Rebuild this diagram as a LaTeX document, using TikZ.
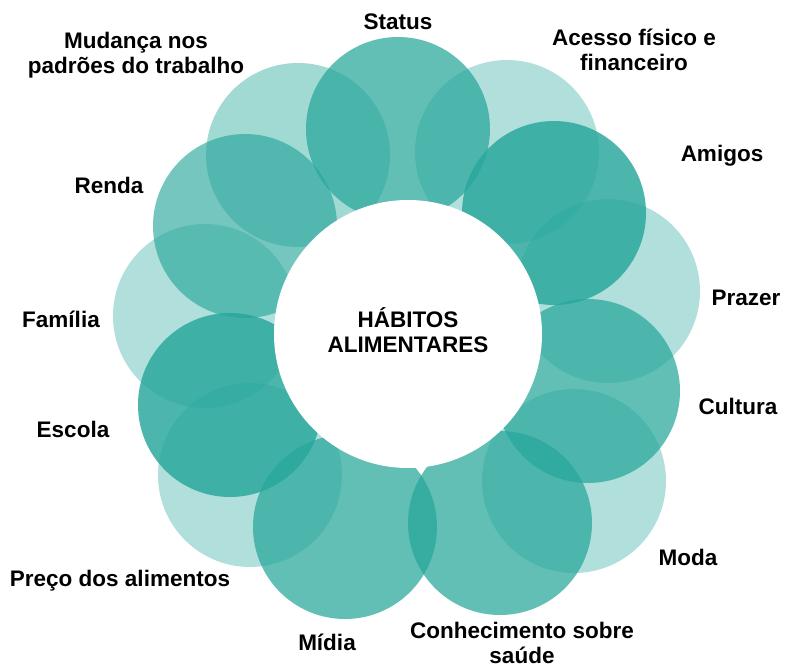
\documentclass[tikz,border=0pt]{standalone}
\usepackage{fontspec}
\setmainfont{Liberation Sans}
\definecolor{petal}{RGB}{38,166,154}
\tikzset{
  circ1/.style = {
    shape = circle,
    fill = petal,
    fill opacity = 0.36,
    inner sep = 0pt,
    minimum size = 184pt,
  }
}
\tikzset{
  circ2/.style = {circ1, fill opacity = 0.72},
  circ3/.style = {circ1, fill opacity = 0.82},
}
\tikzset{
  label1/.style = {
    align = center,
    inner sep = 0pt,
    font = \fontsize{22.5}{25}\selectfont\bfseries,
  }
}

\begin{document}
\begin{tikzpicture}[x = 1pt, y = -1pt]
        \useasboundingbox (0,0) rectangle (785,668);
        % petals
        \node[circ2](c1) at (398,129){};
        \node[circ1](c2) at (507,152){};
        \node[circ3](c3) at (554,213){};
        \node[circ1](c4) at (608,291){};
        \node[circ2](c5) at (588,391){};
        \node[circ1](c6) at (574,481){};
        \node[circ2](c7) at (500,523){};
        \node[circ2](c8) at (345,527){};
        \node[circ1](c9) at (250,475){};
        \node[circ3](c10) at (230,405){};
        \node[circ1](c11) at (205,316){};
        \node[circ2, fill opacity = 0.64](c12) at (245,226){};
        \node[circ1, fill opacity = 0.43](c13) at (298,155){};
        % centre
        \node[circle, fill = white, minimum size = 268pt, inner sep = 0pt](hub) at (408,334){};
        \node[label1](h) at (408,330){HÁBITOS\\ALIMENTARES};
        % labels
        \node[label1, anchor = base](t1) at (398,30){Status};
        \node[label1, anchor = north](t2) at (634,28.5){Acesso físico e\\financeiro};
        \node[label1, anchor = base](t3) at (722,162){Amigos};
        \node[label1, anchor = base](t4) at (746,306){Prazer};
        \node[label1, anchor = base](t5) at (738,414){Cultura};
        \node[label1, anchor = base](t6) at (688,565){Moda};
        \node[label1, anchor = north](t7) at (522,622){Conhecimento sobre\\saúde};
        \node[label1, anchor = base](t8) at (327,650){Mídia};
        \node[label1, anchor = base](t9) at (120,586){Preço dos alimentos};
        \node[label1, anchor = base](t10) at (73,438){Escola};
        \node[label1, anchor = base](t11) at (61,328){Família};
        \node[label1, anchor = base](t12) at (109,194){Renda};
        \node[label1, anchor = north](t13) at (136,31.5){Mudança nos\\padrões do trabalho};
    \end{tikzpicture}
\end{document}
